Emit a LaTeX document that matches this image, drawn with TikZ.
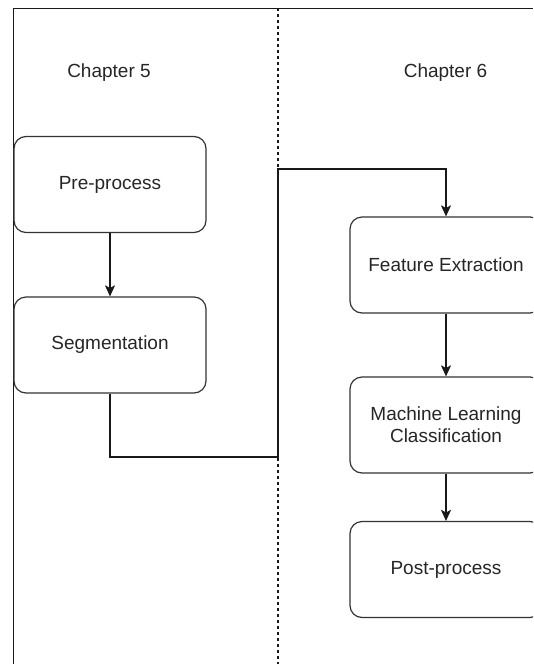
\documentclass[tikz,border=0pt]{standalone}
\usepackage{fontspec}
\setmainfont{Liberation Sans}
\usepackage{tikz}
\usetikzlibrary{arrows.meta, positioning}

\begin{document}
\begin{tikzpicture}[x=1pt, y=-1pt, >={Stealth[length=11pt, width=10pt, inset=2.5pt]},
    font=\fontsize{19}{22}\selectfont,
    stage/.style={draw=black!80, line width=1.2pt, rounded corners=12pt, minimum width=192pt,
        minimum height=96pt, inner sep=0pt, align=center, text=black!85},
    chapter/.style={text=black!85},
    flow/.style={->, draw=black!90, line width=1.2pt}]

\clip (0,0) rectangle (533,664);
\fill[white] (0,0) rectangle (533,664);

% ── FRAME + DIVIDER ──────────────────────────────────────────────
\draw[black!90, line width=1pt] (533,8) -- (13.5,8) -- (13.5,664);
\draw[black!90, line width=1.2pt, dash pattern=on 3pt off 3pt] (278,8) -- (278,664);

% ── LEFT: Chapter 5 ──────────────────────────────────────────────
\node[chapter] (ch5) at (109,73) {Chapter 5};
\node[stage] (pre) at (110,184.5) {Pre-process};
\node[stage] (seg) at (110,345) {Segmentation};

% ── RIGHT: Chapter 6 ─────────────────────────────────────────────
\node[chapter] (ch6) at (445.5,73) {Chapter 6};
\node[stage] (feat) at (446,265) {Feature Extraction};
\node[stage] (mlc) at (446,425) {Machine Learning\\Classification};
\node[stage] (post) at (446,569.5) {Post-process};

% Connectors
\coordinate (low) at (278,457);
\coordinate (high) at (278,169);
\draw[flow] (pre) -- (seg);
\draw[flow] (seg.south) |- (low) -- (high) -| (feat.north);
\draw[flow] (feat) -- (mlc);
\draw[flow] (mlc) -- (post);

\end{tikzpicture}
\end{document}
